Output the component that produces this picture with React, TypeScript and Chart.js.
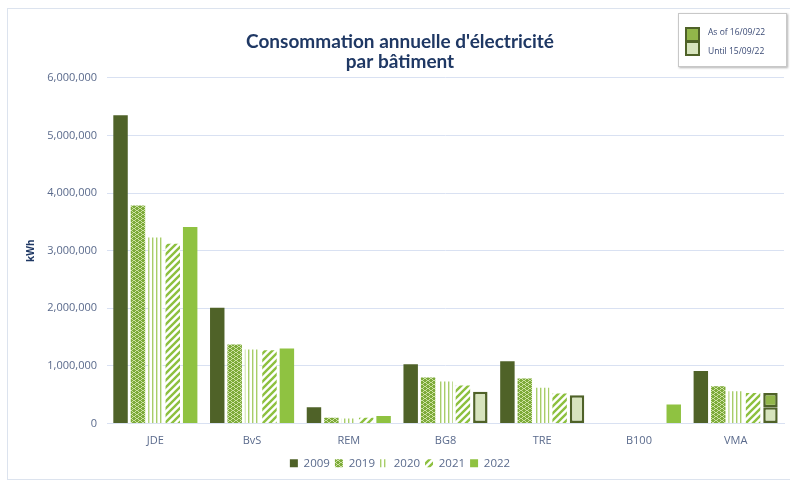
import React, { useEffect, useRef } from 'react';
import { Chart, registerables } from 'chart.js';

Chart.register(...registerables);

// Buildings on the category axis
const categories = ['JDE', 'BvS', 'REM', 'BG8', 'TRE', 'B100', 'VMA'];

// Yearly consumption in kWh per building
const y2009 = [5350000, 2010000, 280000, 1030000, 1080000, null, 910000];
const y2019 = [3785000, 1370000, 100000, 800000, 780000, null, 645000];
const y2020 = [3230000, 1285000, 85000, 730000, 620000, null, 560000];
const y2021 = [3120000, 1270000, 100000, 660000, 520000, null, 530000];
const y2022 = [3410000, 1300000, 130000, null, null, 330000, null];
// 2022 split where the year is not complete
const until150922 = [null, null, null, 550000, 490000, null, 280000];
const asOf160922 = [null, null, null, null, null, null, 250000];

const yTicks = [0, 1000000, 2000000, 3000000, 4000000, 5000000, 6000000];

const seriesNames = ['2009', '2019', '2020', '2021', '2022'];
const splitNames = ['Until 15/09/22', 'As of 16/09/22'];

const DARK = '#4F6228';
const BRIGHT = '#8FC241';
const PALE = '#D7E4BD';
const MID = '#92B64A';
const AXIS_TEXT = '#5A6A8C';
const NAVY = '#1F3864';
const GRID = '#D9E1F2';

function makePattern(w: number, h: number, draw: (g: CanvasRenderingContext2D) => void) {
  const c = document.createElement('canvas');
  c.width = w;
  c.height = h;
  const g = c.getContext('2d')!;
  draw(g);
  return g.createPattern(c, 'repeat')!;
}

export default function App() {
  const ref = useRef<HTMLCanvasElement>(null);

  useEffect(() => {
    const canvas = ref.current!;

    // small light flecks on green
    const fleck = makePattern(6, 4, (g) => {
      g.fillStyle = '#7DAA3A';
      g.fillRect(0, 0, 6, 4);
      g.fillStyle = '#CFE4A5';
      g.fillRect(1, 0, 2, 1);
      g.fillRect(0, 1, 1, 1);
      g.fillRect(3, 1, 1, 1);
      g.fillRect(4, 2, 2, 1);
      g.fillRect(3, 3, 1, 1);
      g.fillRect(0, 3, 1, 1);
    });
    // thin vertical stripes
    const vstripe = makePattern(4, 4, (g) => {
      g.fillStyle = '#FFFFFF';
      g.fillRect(0, 0, 4, 4);
      g.fillStyle = '#A8CD6A';
      g.fillRect(0, 0, 1, 4);
      g.fillStyle = '#DCECC2';
      g.fillRect(1, 0, 1, 4);
    });
    // wide upward diagonal stripes
    const dstripe = makePattern(7, 7, (g) => {
      g.fillStyle = '#FFFFFF';
      g.fillRect(0, 0, 7, 7);
      g.strokeStyle = '#8DC03F';
      g.lineWidth = 2.4;
      g.beginPath();
      g.moveTo(-1, 8);
      g.lineTo(8, -1);
      g.moveTo(-1, 1);
      g.lineTo(1, -1);
      g.moveTo(6, 8);
      g.lineTo(8, 6);
      g.stroke();
    });

    const chart = new Chart(canvas, {
      type: 'bar',
      data: {
        labels: categories,
        datasets: [
          { label: seriesNames[0], data: y2009, backgroundColor: DARK, stack: 's09' },
          { label: seriesNames[1], data: y2019, backgroundColor: fleck, stack: 's19' },
          { label: seriesNames[2], data: y2020, backgroundColor: vstripe, stack: 's20' },
          { label: seriesNames[3], data: y2021, backgroundColor: dstripe, stack: 's21' },
          { label: seriesNames[4], data: y2022, backgroundColor: BRIGHT, stack: 's22' },
          {
            label: splitNames[0],
            data: until150922,
            backgroundColor: PALE,
            borderColor: DARK,
            borderWidth: 2.5,
            borderSkipped: false,
            stack: 's22',
          },
          {
            label: splitNames[1],
            data: asOf160922,
            backgroundColor: MID,
            borderColor: DARK,
            borderWidth: 2.5,
            borderSkipped: false,
            stack: 's22',
          },
        ] as any,
      },
      options: {
        responsive: false,
        animation: false,
        devicePixelRatio: 1,
        layout: { padding: { left: 16, right: 6, top: 0, bottom: 2 } },
        datasets: { bar: { categoryPercentage: 0.9, barPercentage: 0.83 } },
        plugins: {
          title: {
            display: true,
            text: ["Consommation annuelle d'électricité", 'par bâtiment'],
            color: NAVY,
            font: { family: 'Lato', size: 19, weight: 'bold', lineHeight: 1.05 },
            padding: { top: 32, bottom: 6 },
          },
          legend: {
            position: 'bottom',
            labels: {
              boxWidth: 8,
              boxHeight: 8,
              padding: 5,
              color: AXIS_TEXT,
              font: { family: 'Open Sans', size: 11.5 },
              filter: (item: any) => item.datasetIndex < seriesNames.length,
            },
          },
          tooltip: { enabled: false },
        },
        scales: {
          x: {
            stacked: true,
            grid: { display: false, drawTicks: false },
            border: { display: true, color: GRID, width: 1 },
            ticks: { padding: 11, color: AXIS_TEXT, font: { family: 'Open Sans', size: 11 } },
            afterFit: (s: any) => {
              s.height = 29;
            },
          },
          y: {
            stacked: true,
            min: yTicks[0],
            max: yTicks[yTicks.length - 1],
            afterBuildTicks: (s: any) => {
              s.ticks = yTicks.map((v) => ({ value: v }));
            },
            ticks: {
              padding: 10,
              color: AXIS_TEXT,
              font: { family: 'Open Sans', size: 11 },
              callback: (v: any) => Number(v).toLocaleString('en-US'),
            },
            grid: { color: GRID, drawTicks: false },
            border: { display: false },
            title: {
              display: true,
              text: 'kWh',
              color: NAVY,
              font: { family: 'Open Sans', size: 10, weight: 'bold', lineHeight: 1.2 },
              padding: { top: 9, bottom: 0 },
            },
            afterFit: (s: any) => {
              s.width = 91;
            },
          },
        },
      } as any,
    });

    return () => chart.destroy();
  }, []);

  const swatch = (bg: string): React.CSSProperties => ({
    position: 'absolute',
    left: 6,
    width: 11,
    height: 11,
    background: bg,
    border: `2px solid ${DARK}`,
  });

  return (
    <div style={{ position: 'fixed', left: 0, top: 0, width: 790, height: 481, background: '#fff', overflow: 'hidden' }}>
      <div
        style={{
          position: 'absolute',
          left: 7,
          top: 8,
          width: 800,
          height: 470,
          border: '1px solid #DCE3EE',
        }}
      />
      <canvas
        ref={ref}
        width={790}
        height={481}
        style={{ position: 'absolute', left: 0, top: 0, width: 790, height: 481 }}
      />
      <div
        style={{
          position: 'absolute',
          left: 678,
          top: 13,
          width: 107,
          height: 52,
          background: '#fff',
          border: '1px solid #C8C8C8',
          boxShadow: '1px 1px 2px rgba(0,0,0,0.3)',
          fontFamily: 'Open Sans',
          fontSize: 8.5,
          color: '#3A4A75',
        }}
      >
        <div style={{ ...swatch(MID), top: 13 }} />
        <div style={{ ...swatch(PALE), top: 27 }} />
        <div style={{ position: 'absolute', left: 29, top: 12, whiteSpace: 'nowrap' }}>{splitNames[1]}</div>
        <div style={{ position: 'absolute', left: 29, top: 31, whiteSpace: 'nowrap' }}>{splitNames[0]}</div>
      </div>
    </div>
  );
}
